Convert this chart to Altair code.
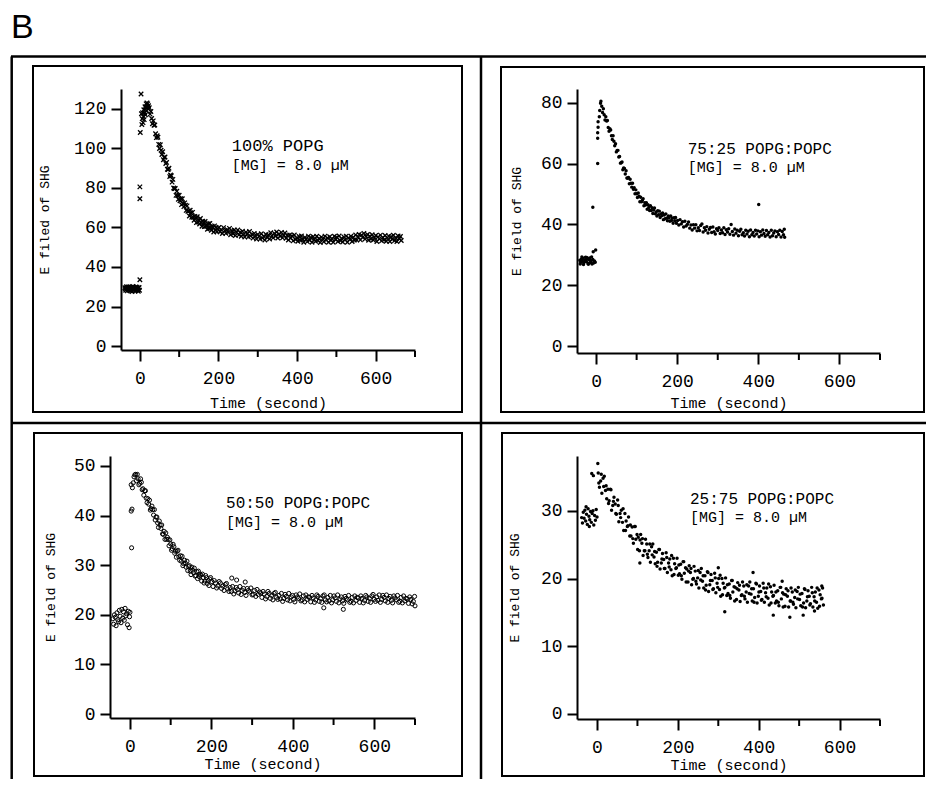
import altair as alt
import pandas as pd

# ---------------- values: (time in s, E field of SHG) ----------------
p1_points = [
    (-38, 29.5), (-37, 28.9), (-36, 28.2), (-35, 29.4), (-34, 30.0), (-33, 28.8), (-32, 27.9), (-31, 29.7),
    (-30, 29.1), (-29, 29.9), (-28, 28.4), (-27, 29.2), (-26, 29.8), (-25, 28.7), (-24, 28.0), (-23, 29.5),
    (-22, 29.3), (-21, 28.9), (-20, 27.6), (-19, 29.6), (-18, 30.1), (-17, 28.1), (-16, 28.6), (-15, 29.8),
    (-14, 29.4), (-13, 29.0), (-12, 27.8), (-11, 29.3), (-10, 29.9), (-9, 28.8), (-8, 28.3), (-7, 29.7),
    (-6, 29.0), (-5, 28.5), (-4, 27.7), (-3, 29.4), (-2, 29.6), (-1, 28.2),
    (0, 33.5), (0, 74.5), (0, 80.5), (1, 108.0), (4, 117.5), (3, 127.5),
    (5, 112.0), (6, 115.0), (7, 118.0), (8, 113.0), (9, 116.0), (10, 119.5), (11, 114.5), (12, 118.0),
    (13, 121.0), (14, 117.0), (15, 120.5), (16, 122.5), (17, 119.0), (18, 123.0), (19, 121.0), (20, 122.5),
    (21, 120.0), (22, 121.5),
    (24, 120.5), (26, 117.3), (28, 118.6), (30, 115.1), (32, 112.4), (34, 113.9), (36, 111.7), (38, 111.8),
    (40, 107.4), (42, 105.4), (44, 106.4), (46, 105.6), (48, 102.0), (50, 99.9), (52, 101.8), (54, 99.0),
    (56, 96.9), (58, 98.3), (60, 94.2), (62, 95.4), (64, 95.6), (66, 92.3), (68, 92.9), (70, 89.4),
    (72, 89.3), (74, 89.9), (76, 85.7), (78, 86.5), (80, 86.1), (82, 82.9), (84, 84.3), (86, 79.9),
    (88, 79.6), (90, 79.7), (92, 76.2), (94, 78.3), (96, 76.2), (98, 74.2), (100, 76.3), (102, 73.5),
    (104, 74.5), (106, 71.5), (108, 74.5), (110, 72.1), (112, 70.5), (114, 72.4), (116, 71.2), (118, 68.6),
    (120, 70.9), (122, 68.2), (124, 68.3), (126, 65.8), (128, 68.7), (130, 67.4), (132, 65.1), (134, 67.6),
    (136, 65.1), (138, 63.6), (140, 65.6), (142, 64.7), (144, 62.4), (146, 65.4), (148, 62.7), (150, 63.6),
    (152, 61.7), (154, 64.5), (156, 62.4), (158, 60.6), (160, 63.1), (162, 62.3), (164, 60.4), (166, 63.0),
    (168, 60.6), (170, 61.2), (172, 59.1), (174, 61.9), (176, 59.6), (178, 62.0), (180, 59.8), (182, 58.5),
    (184, 60.6), (186, 59.8), (188, 57.7), (190, 60.8), (192, 58.6), (194, 60.0), (196, 57.8), (198, 59.4),
    (201, 60.0), (204, 57.8), (207, 58.9), (210, 56.9), (213, 59.9), (216, 58.4), (219, 57.0), (222, 58.9),
    (225, 57.6), (228, 59.5), (231, 56.3), (234, 58.3), (237, 56.8), (240, 58.7), (243, 55.9), (246, 57.6),
    (249, 58.7), (252, 56.2), (255, 57.6), (258, 55.5), (261, 58.1), (264, 56.5), (267, 55.1), (270, 57.6),
    (273, 56.8), (276, 55.2), (279, 57.9), (282, 55.6), (285, 56.5), (288, 54.6), (291, 57.0), (294, 55.6),
    (297, 54.1), (300, 56.4), (303, 55.6), (306, 54.1), (309, 56.8), (312, 54.6), (315, 55.5), (318, 53.6),
    (321, 56.4), (324, 54.9), (327, 56.2), (330, 54.1), (333, 57.3), (336, 55.7), (339, 54.7), (342, 57.0),
    (345, 55.5), (348, 57.7), (351, 54.6), (354, 56.7), (357, 55.5), (360, 57.5), (363, 54.7), (366, 56.2),
    (369, 57.2), (372, 54.5), (375, 56.0), (378, 53.6), (381, 56.2), (384, 54.6), (387, 55.7), (390, 53.2),
    (393, 56.2), (396, 53.9), (399, 54.6), (402, 53.0), (405, 55.4), (408, 53.5), (411, 55.7), (414, 54.0),
    (417, 52.5), (420, 54.9), (423, 54.1), (426, 52.8), (429, 55.6), (432, 53.5), (435, 54.9), (438, 52.5),
    (441, 55.3), (444, 53.9), (447, 53.0), (450, 55.5), (453, 53.3), (456, 54.4), (459, 52.4), (462, 55.1),
    (465, 54.3), (468, 52.7), (471, 55.6), (474, 53.6), (477, 54.7), (480, 52.5), (483, 55.3), (486, 53.5),
    (489, 54.3), (492, 52.5), (495, 55.5), (498, 53.9), (501, 55.0), (504, 52.9), (507, 55.7), (510, 53.3),
    (513, 54.4), (516, 52.6), (519, 55.2), (522, 53.7), (525, 55.6), (528, 52.5), (531, 54.7), (534, 54.0),
    (537, 55.5), (540, 52.9), (543, 54.9), (546, 53.6), (549, 56.2), (552, 53.6), (555, 55.1), (558, 56.5),
    (561, 53.7), (564, 56.1), (567, 55.0), (570, 57.0), (573, 54.1), (576, 55.6), (579, 56.4), (582, 53.5),
    (585, 55.6), (588, 54.1), (591, 56.3), (594, 53.6), (597, 54.7), (600, 55.9), (603, 52.9), (606, 55.2),
    (609, 54.2), (612, 56.1), (615, 53.2), (618, 54.9), (621, 53.6), (624, 55.9), (627, 53.0), (630, 54.7),
    (633, 55.6), (636, 52.9), (639, 55.3), (642, 54.0), (645, 56.0), (648, 53.3), (651, 54.8), (654, 52.9),
    (657, 55.7), (660, 54.3), (663, 55.4), (665, 53.4),
]

p2_points = [
    (-40, 28.2), (-39, 27.0), (-38, 27.6), (-36, 28.6), (-35, 29.3), (-34, 27.9), (-32, 28.9), (-31, 26.8),
    (-30, 27.4), (-28, 28.3), (-27, 27.9), (-26, 29.2), (-24, 27.8), (-23, 29.1), (-22, 28.7), (-20, 27.2),
    (-19, 26.9), (-18, 28.4), (-16, 29.0), (-15, 28.3), (-14, 27.5), (-12, 28.1), (-11, 29.3), (-10, 27.0),
    (-8, 28.5), (-6, 27.3), (-4, 28.0), (-2, 27.6), (-7, 31.0), (-1, 31.6),
    (-8, 45.7), (4, 60.1), (4, 68.4), (4, 70.2), (5, 72.0), (5, 73.8), (8, 75.5), (9, 77.5), (11, 79.9), (12, 80.6),
    (14, 78.9), (16, 76.9), (18, 78.1), (20, 76.1), (22, 74.4), (24, 75.5), (26, 74.1), (28, 74.2),
    (30, 71.9), (32, 70.7), (34, 71.5), (36, 71.1), (38, 69.2), (40, 68.0), (42, 69.2), (44, 67.4),
    (46, 65.9), (48, 66.6), (50, 63.9), (52, 64.4), (54, 64.4), (56, 62.2), (58, 62.4), (60, 60.2),
    (62, 60.3), (64, 60.6), (66, 58.0), (68, 58.6), (70, 58.4), (72, 56.6), (74, 57.7), (76, 55.3),
    (78, 55.2), (80, 55.5), (82, 53.4), (84, 54.9), (86, 53.6), (88, 52.3), (90, 53.6), (92, 51.6),
    (94, 52.1), (96, 50.1), (98, 51.4), (100, 50.1), (102, 48.9), (104, 50.4), (106, 49.3), (108, 47.5),
    (110, 49.0), (112, 47.5), (114, 47.9), (116, 48.5), (118, 46.2), (120, 47.2), (122, 46.4), (124, 47.2),
    (126, 45.0), (128, 46.5), (130, 45.6), (132, 44.6), (134, 46.2), (136, 44.6), (138, 45.5), (140, 43.6),
    (142, 44.8), (144, 45.4), (146, 43.5), (148, 44.1), (150, 42.8), (152, 44.5), (154, 43.2), (156, 44.4),
    (158, 42.3), (160, 43.5), (162, 42.9), (164, 43.8), (166, 41.6), (168, 43.1), (170, 41.9), (172, 43.5),
    (174, 42.1), (176, 41.2), (178, 42.8), (180, 42.1), (182, 41.1), (184, 42.8), (186, 41.3), (188, 42.1),
    (190, 40.4), (192, 42.2), (194, 41.2), (196, 42.3), (198, 40.4),
    (201, 41.3), (204, 39.8), (207, 41.6), (210, 40.2), (213, 40.9), (216, 39.2), (219, 41.1), (222, 39.5),
    (225, 40.0), (228, 40.8), (231, 38.8), (234, 39.8), (237, 38.2), (240, 39.9), (243, 38.8), (246, 39.9),
    (249, 37.9), (252, 38.9), (255, 38.0), (258, 39.7), (261, 40.2), (264, 37.5), (267, 38.9), (270, 38.1),
    (273, 39.3), (276, 37.2), (279, 38.4), (282, 39.0), (285, 37.4), (288, 39.2), (291, 37.6), (294, 36.9),
    (297, 38.6), (300, 38.0), (303, 38.9), (306, 37.0), (309, 38.2), (312, 37.3), (315, 38.9), (318, 36.7),
    (321, 38.3), (324, 37.5), (327, 38.6), (330, 36.8), (333, 40.0), (336, 37.7), (339, 36.5), (342, 38.5),
    (345, 37.1), (348, 38.1), (351, 36.3), (354, 37.8), (357, 38.4), (360, 36.6), (363, 37.3), (366, 36.2),
    (369, 38.1), (372, 36.9), (375, 37.8), (378, 36.0), (381, 38.2), (384, 36.6), (387, 37.4), (390, 36.2),
    (393, 38.1), (396, 36.9), (399, 37.9), (401, 46.6), (402, 36.0), (405, 37.6), (408, 36.5), (411, 38.2),
    (414, 37.0), (417, 36.1), (420, 38.0), (423, 36.6), (426, 37.4), (429, 35.9), (432, 38.1), (435, 36.3),
    (438, 37.2), (441, 37.9), (444, 36.0), (447, 37.6), (450, 36.7), (453, 38.1), (456, 35.9), (459, 37.7),
    (462, 36.6), (464, 38.4), (465, 35.8),
]

p3_points = [
    (-42, 19.2), (-40, 18.1), (-38, 20.0), (-36, 19.5), (-34, 17.8), (-32, 20.4), (-30, 19.0), (-28, 18.6),
    (-26, 20.9), (-24, 19.7), (-22, 18.4), (-20, 21.1), (-18, 19.3), (-16, 20.6), (-14, 18.9), (-12, 21.3),
    (-10, 19.8), (-8, 20.2), (-6, 18.0), (-4, 20.7), (-2, 17.4), (-1, 19.6), (0, 20.5),
    (4, 33.5), (3, 40.9), (5, 41.3), (3, 46.2), (6, 45.6), (8, 46.6), (10, 47.8), (12, 48.2),
    (14, 48.3), (16, 47.0), (18, 48.3), (20, 47.4), (22, 46.2), (24, 46.5), (26, 47.4), (28, 46.7),
    (30, 45.2), (32, 45.4), (34, 44.1), (36, 45.0), (38, 45.0), (40, 43.5), (42, 42.6), (44, 43.4),
    (46, 42.3), (48, 43.1), (50, 41.1), (52, 41.4), (54, 41.9), (56, 41.2), (58, 40.1), (60, 41.2),
    (62, 39.1), (64, 39.7), (66, 39.7), (68, 38.5), (70, 37.6), (72, 38.9), (74, 38.1), (76, 37.4),
    (78, 38.1), (80, 36.3), (82, 36.2), (84, 36.8), (86, 35.2), (88, 36.5), (90, 35.2), (92, 35.6),
    (94, 35.2), (96, 33.9), (98, 35.1), (100, 34.3), (102, 33.0), (104, 33.3), (106, 34.2), (108, 33.7),
    (110, 32.4), (112, 32.8), (114, 31.6), (116, 32.8), (118, 33.0), (120, 31.7), (122, 31.0), (124, 31.9),
    (126, 30.8), (128, 31.8), (130, 29.9), (132, 30.3), (134, 31.0), (136, 30.4), (138, 29.6), (140, 30.8),
    (142, 28.9), (144, 29.7), (146, 29.9), (148, 28.8), (150, 28.1), (152, 29.6), (154, 29.0), (156, 28.5),
    (158, 29.4), (160, 27.8), (162, 27.9), (164, 28.7), (166, 27.3), (168, 28.8), (170, 27.7), (172, 28.2),
    (174, 28.0), (176, 26.8), (178, 28.2), (180, 27.5), (182, 26.4), (184, 26.8), (186, 27.9), (188, 27.5),
    (190, 26.3), (192, 26.9), (194, 25.9), (196, 27.2), (198, 27.5),
    (201, 26.7), (204, 25.7), (207, 26.9), (210, 26.4), (213, 25.4), (216, 25.8), (219, 26.7), (222, 26.4),
    (225, 25.3), (228, 25.8), (231, 24.9), (234, 26.1), (237, 26.3), (240, 25.2), (243, 24.7), (246, 25.5),
    (249, 24.7), (250, 27.4), (252, 25.7), (255, 24.2), (258, 24.8), (261, 25.5), (262, 27.0), (264, 25.1),
    (267, 24.4), (270, 25.7), (273, 24.1), (276, 24.9), (279, 25.3), (282, 24.5), (283, 26.6), (285, 23.9),
    (288, 25.3), (291, 24.9), (294, 24.6), (297, 25.4), (300, 24.0), (303, 24.1), (306, 24.9), (309, 23.7),
    (312, 25.1), (315, 24.1), (318, 24.6), (321, 24.4), (324, 23.5), (327, 24.7), (330, 24.2), (333, 23.2),
    (336, 23.7), (339, 24.7), (342, 24.3), (345, 23.3), (348, 23.9), (351, 23.0), (354, 24.3), (357, 24.5),
    (360, 23.5), (363, 23.1), (366, 23.9), (369, 23.2), (372, 24.3), (375, 22.7), (378, 23.3), (381, 24.1),
    (384, 23.7), (387, 23.0), (390, 24.3), (393, 22.8), (396, 23.6), (399, 23.9), (402, 23.1), (405, 22.6),
    (408, 24.0), (411, 23.6), (414, 23.3), (417, 24.2), (420, 22.8), (423, 23.0), (426, 23.8), (429, 22.6),
    (432, 24.0), (435, 23.1), (438, 23.6), (441, 23.5), (444, 22.6), (447, 23.9), (450, 23.4), (453, 22.5),
    (456, 23.0), (459, 24.0), (462, 23.7), (465, 22.7), (468, 23.3), (471, 22.5), (474, 23.8), (476, 21.4),
    (477, 24.0), (480, 23.0), (483, 22.6), (486, 23.5), (489, 22.8), (492, 23.9), (495, 22.4), (498, 23.0),
    (501, 23.8), (504, 23.4), (507, 22.7), (510, 24.0), (513, 22.4), (516, 23.2), (519, 23.6), (522, 22.8),
    (524, 21.1), (525, 22.3), (528, 23.7), (531, 23.3), (534, 23.0), (537, 23.9), (540, 22.5), (543, 22.7),
    (546, 23.5), (549, 22.4), (552, 23.8), (555, 22.9), (558, 23.5), (561, 23.4), (564, 22.5), (567, 23.8),
    (570, 23.3), (573, 22.4), (576, 22.9), (579, 23.9), (582, 23.6), (585, 22.7), (588, 23.3), (591, 22.5),
    (594, 23.8), (597, 24.1), (600, 23.1), (603, 22.7), (606, 23.6), (609, 22.9), (612, 24.0), (615, 22.5),
    (618, 23.1), (621, 23.9), (624, 23.5), (627, 22.8), (630, 24.0), (633, 22.5), (636, 23.3), (639, 23.7),
    (642, 22.9), (645, 22.4), (648, 23.8), (651, 23.4), (654, 23.0), (657, 23.9), (660, 22.5), (663, 22.7),
    (666, 23.5), (669, 22.4), (672, 23.8), (675, 22.8), (678, 23.3), (681, 23.2), (684, 22.3), (687, 23.6),
    (690, 23.1), (693, 22.2), (696, 22.7), (699, 23.7), (700, 21.8),
]

p4_points = [
    (-38, 29.0), (-36, 28.2), (-34, 29.8), (-32, 28.9), (-30, 30.1), (-28, 28.5), (-27, 30.6), (-26, 29.5),
    (-24, 28.0), (-22, 30.3), (-20, 29.2), (-19, 27.7), (-18, 28.7), (-16, 29.9), (-14, 28.3), (-12, 29.6),
    (-10, 30.0), (-8, 27.9), (-6, 29.3), (-4, 28.6), (-2, 30.2), (0, 29.1),
    (-13, 35.5), (-9, 35.2), (2, 37.0),
    (3, 35.6), (6, 33.5), (9, 34.4), (12, 32.6), (15, 34.8), (18, 35.1), (21, 33.0), (24, 31.8),
    (27, 33.2), (30, 31.5), (33, 33.2), (36, 30.1), (39, 30.8), (42, 32.0), (45, 31.0), (48, 29.5),
    (51, 31.6), (54, 28.4), (57, 29.6), (60, 30.1), (63, 28.3), (66, 27.1), (69, 29.6), (72, 28.5),
    (75, 27.7), (78, 29.1), (81, 26.3), (84, 26.3), (87, 27.6), (90, 25.2), (93, 27.7), (96, 25.8),
    (99, 26.5), (102, 26.1), (105, 24.1), (106, 22.3), (108, 26.5), (111, 25.2), (114, 23.4), (117, 24.1),
    (120, 25.8), (123, 25.1), (126, 23.1), (129, 24.1), (132, 22.4), (135, 24.7), (138, 25.1), (141, 23.2),
    (144, 22.2), (147, 23.9), (150, 22.4), (153, 24.3), (156, 21.4), (159, 22.3), (162, 23.7), (165, 22.8),
    (168, 21.5), (171, 23.8), (174, 20.9), (177, 22.3), (180, 22.9), (183, 21.3), (186, 20.4), (189, 23.0),
    (192, 22.2), (195, 21.5), (198, 23.0), (201, 20.5), (204, 20.7), (207, 22.1), (210, 19.9), (213, 22.5),
    (216, 20.8), (219, 21.6), (222, 21.4), (225, 19.5), (228, 21.9), (231, 20.9), (234, 19.1), (237, 19.9),
    (240, 21.8), (243, 21.1), (246, 19.2), (249, 20.1), (252, 18.6), (255, 20.9), (258, 21.5), (261, 19.6),
    (264, 18.6), (267, 20.4), (270, 19.0), (273, 21.0), (276, 18.1), (279, 19.1), (282, 20.6), (285, 19.7),
    (288, 18.5), (291, 20.8), (294, 17.9), (297, 19.3), (300, 21.6), (301, 20.0), (303, 18.4), (306, 17.4),
    (309, 20.0), (312, 19.3), (315, 18.6), (316, 15.1), (318, 20.1), (321, 17.5), (324, 17.8), (327, 19.2),
    (330, 17.1), (333, 19.7), (336, 18.0), (339, 18.8), (342, 18.7), (345, 16.9), (348, 19.4), (351, 18.3),
    (354, 16.6), (357, 17.5), (360, 19.5), (363, 18.9), (366, 17.0), (369, 18.0), (372, 16.5), (375, 18.9),
    (378, 19.5), (381, 17.7), (384, 16.7), (386, 20.9), (387, 18.5), (390, 17.2), (393, 19.3), (396, 16.4),
    (399, 17.4), (402, 18.9), (405, 18.1), (408, 16.9), (411, 19.3), (414, 16.5), (417, 17.9), (420, 18.6),
    (423, 17.1), (426, 16.1), (429, 18.8), (432, 18.0), (435, 17.4), (436, 14.6), (438, 19.0), (441, 16.4),
    (444, 16.7), (447, 18.2), (450, 16.0), (453, 18.7), (456, 17.0), (458, 19.6), (459, 17.9), (462, 17.7),
    (465, 15.9), (468, 18.5), (471, 17.4), (474, 15.8), (477, 14.3), (478, 16.7), (480, 18.6), (483, 18.0),
    (486, 16.2), (489, 17.2), (492, 15.7), (495, 18.1), (498, 18.7), (501, 16.9), (504, 16.0), (507, 17.8),
    (510, 14.6), (511, 16.4), (513, 18.5), (516, 15.7), (519, 16.7), (522, 18.2), (525, 17.4), (528, 16.3),
    (531, 18.7), (534, 15.8), (537, 17.3), (538, 15.2), (540, 18.0), (543, 16.5), (546, 15.6), (549, 18.3),
    (552, 17.6), (555, 17.0), (556, 18.9), (558, 18.6), (560, 16.1),
    (4.5, 34.1), (10.5, 35.4), (16.5, 33.6), (22.5, 33.7), (28.5, 31.1), (34.5, 33.1), (40.5, 31.4), (46.5, 29.6),
    (52.5, 30.8), (58.5, 29.0), (64.5, 30.3), (70.5, 27.1), (76.5, 27.8), (82.5, 27.9), (88.5, 25.9), (94.5, 27.7),
    (100.5, 24.3), (106.5, 25.7), (112.5, 25.9), (118.5, 24.1), (124.5, 23.6), (130.5, 25.1), (136.5, 23.5),
    (142.5, 24.0), (148.5, 21.8), (154.5, 24.3), (160.5, 22.9), (166.5, 21.5), (172.5, 23.1), (178.5, 21.7),
    (184.5, 23.4), (190.5, 20.6), (196.5, 21.6), (202.5, 22.0), (208.5, 20.4), (214.5, 22.5), (220.5, 19.5),
    (226.5, 21.1), (232.5, 21.5), (238.5, 20.0), (244.5, 19.6), (250.5, 21.2), (256.5, 19.8), (262.5, 20.4),
    (268.5, 18.3), (274.5, 20.9), (280.5, 19.7), (286.5, 18.4), (292.5, 20.1), (298.5, 18.7), (304.5, 20.5),
    (310.5, 17.6), (316.5, 18.7), (322.5, 19.1), (328.5, 17.5), (334.5, 19.7), (340.5, 16.7), (346.5, 18.5),
    (352.5, 19.0), (358.5, 17.6), (364.5, 17.4), (370.5, 19.1), (376.5, 17.8), (382.5, 18.5), (388.5, 16.5),
    (394.5, 19.2), (400.5, 18.0), (406.5, 16.8), (412.5, 18.6), (418.5, 17.3), (424.5, 19.2), (430.5, 16.4),
    (436.5, 17.5), (442.5, 18.0), (448.5, 16.5), (454.5, 18.7), (460.5, 15.8), (466.5, 17.6), (472.5, 18.2),
    (478.5, 16.7), (484.5, 16.5), (490.5, 18.3), (496.5, 17.0), (502.5, 17.7), (508.5, 15.8), (514.5, 18.4),
    (520.5, 17.3), (526.5, 16.1), (532.5, 17.9), (538.5, 16.7), (544.5, 18.6), (550.5, 15.9), (556.5, 17.1),
]

# text and tick values
lipid_labels = ["100% POPG", "75:25 POPG:POPC", "50:50 POPG:POPC", "25:75 POPG:POPC"]
conc_label = "[MG] = 8.0 \u00b5M"
y_titles = ["E filed of SHG", "E field of SHG", "E field of SHG", "E field of SHG"]
x_title = "Time (second)"
x_major = [0, 200, 400, 600]
x_minor = [100, 300, 500, 700]
y_ticks = [[0, 20, 40, 60, 80, 100, 120], [0, 20, 40, 60, 80], [0, 10, 20, 30, 40, 50], [0, 10, 20, 30]]
label_time = [234, 226, 236, 230]
label_line1 = [98.6, 63.2, 41.5, 31.0]
label_line2 = [89.0, 57.3, 37.7, 28.4]

# ---------------- layout (pixels of the single canvas) ----------------
W, H = 918, 771
geometry = [
    dict(xdom=[-48, 700], xr=[113, 407], ydom=[-2, 130], yr=[342, 81], tpad=22, xtpad=8, f1=17),
    dict(xdom=[-47, 700], xr=[569, 872], ydom=[-2.3, 84.6], yr=[345, 81], tpad=17, xtpad=5, f1=16),
    dict(xdom=[-49, 700], xr=[102, 407], ydom=[-0.8, 52], yr=[710, 448], tpad=16, xtpad=1, f1=16),
    dict(xdom=[-49.5, 700], xr=[569, 872], ydom=[-0.74, 38.1], yr=[711, 448], tpad=19, xtpad=1, f1=16),
]
MONO = "Liberation Mono"

marks = [
    dict(type="point", shape="M-1,-1L1,1M-1,1L1,-1", size=20, strokeWidth=1.3),
    dict(type="circle", size=12),
    dict(type="point", shape="circle", size=17, strokeWidth=1.0),
    dict(type="circle", size=12),
]

all_points = [p1_points, p2_points, p3_points, p4_points]
layers = []
for i in range(4):
    g = geometry[i]
    df = pd.DataFrame(all_points[i], columns=["t", "e"])
    lab = pd.DataFrame({"t": [label_time[i], label_time[i]],
                        "e": [label_line1[i], label_line2[i]],
                        "label": [lipid_labels[i], conc_label],
                        "fs": [g["f1"], 15]})
    minor = pd.DataFrame({"t": x_minor})
    xenc = alt.X("t:Q",
                 scale=alt.Scale(domain=g["xdom"], range=g["xr"], nice=False, zero=False),
                 axis=alt.Axis(orient="bottom", offset=g["yr"][0] - H, values=x_major,
                               tickSize=11, labelPadding=8, labelFontSize=18,
                               title=x_title, titleFontSize=15, titlePadding=g["xtpad"],
                               labelFlush=False, labelOverlap=False))
    yenc = alt.Y("e:Q",
                 scale=alt.Scale(domain=g["ydom"], range=g["yr"], nice=False, zero=False),
                 axis=alt.Axis(orient="left", offset=-g["xr"][0], values=y_ticks[i],
                               tickSize=10, labelPadding=5, labelFontSize=18,
                               title=y_titles[i], titleFontSize=13, titlePadding=g["tpad"],
                               labelFlush=False, labelOverlap=False))
    m = marks[i]
    if m["type"] == "point":
        pts = alt.Chart(df).mark_point(shape=m["shape"], filled=False, size=m["size"],
                                       strokeWidth=m["strokeWidth"], color="black", opacity=1)
    else:
        pts = alt.Chart(df).mark_circle(size=m["size"], color="black", opacity=1)
    pts = pts.encode(x=xenc, y=yenc)
    txt = alt.Chart(lab).mark_text(align="left", baseline="alphabetic", font=MONO,
                                   color="black").encode(
        x=xenc, y=yenc, text="label:N", size=alt.Size("fs:Q", scale=None, legend=None))
    ticks = alt.Chart(minor).mark_rule(color="black", strokeWidth=2).encode(
        x=xenc, y=alt.value(g["yr"][0] + 1), y2=alt.value(g["yr"][0] + 7))
    layers.append(alt.layer(pts, txt, ticks))

one = alt.Data(values=[{"k": 1}])


def hline(x1, x2, y, w=2.5):
    return alt.Chart(one).mark_rule(color="black", strokeWidth=w).encode(
        x=alt.value(x1), x2=alt.value(x2), y=alt.value(y))


def vline(x, y1, y2, w=2.5):
    return alt.Chart(one).mark_rule(color="black", strokeWidth=w).encode(
        x=alt.value(x), y=alt.value(y1), y2=alt.value(y2))


def box(x1, x2, y1, y2):
    return alt.Chart(one).mark_rect(fillOpacity=0, stroke="black", strokeWidth=2).encode(
        x=alt.value(x1), x2=alt.value(x2), y=alt.value(y1), y2=alt.value(y2))


decor = [
    alt.Chart(one).mark_text(text="B", align="left", baseline="alphabetic",
                             font="Liberation Sans", fontSize=34, color="black").encode(
        x=alt.value(3), y=alt.value(30)),
    hline(3, W, 48.5), vline(3.7, 48.5, H), vline(473, 48.5, H), hline(3, W, 415),
    box(25, 454, 58, 404), box(493, 916, 59, 404), box(26, 454, 425, 768), box(494, 916, 425, 768),
]

chart = alt.layer(*layers, *decor).resolve_scale(x="independent", y="independent").properties(
    width=W, height=H, padding=0, autosize=alt.AutoSizeParams(type="none")
).configure_view(stroke=None).configure_axis(
    labelFont=MONO, titleFont=MONO, labelColor="black", titleColor="black",
    domainColor="black", tickColor="black", domainWidth=2, tickWidth=2, grid=False,
    titleFontWeight="normal"
)

chart.save("out.html", embed_options={"renderer": "svg", "actions": False})
